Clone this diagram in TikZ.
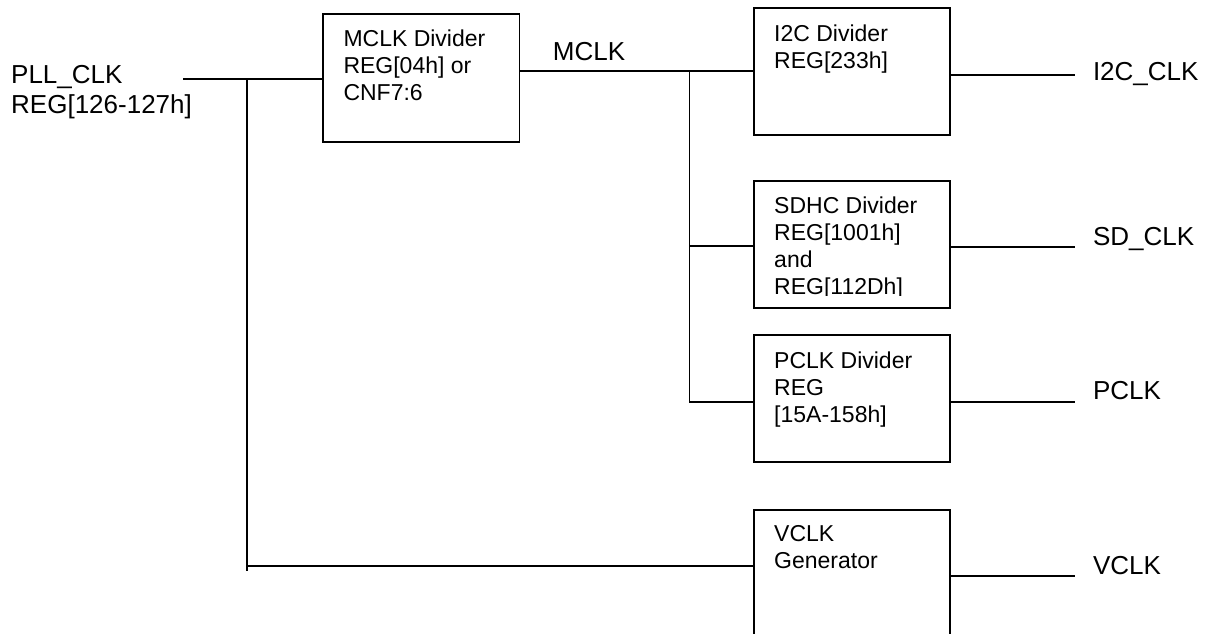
\documentclass[tikz,border=0pt]{standalone}
\usepackage{fontspec}
\setmainfont{Liberation Sans}
\begin{document}
\begin{tikzpicture}[x=1pt,y=-1pt,
  box/.style={draw, line width=1.8pt, minimum width=196.6pt, inner sep=0pt, anchor=north west},
  wire/.style={line width=1.8pt},
  boxtext/.style={font=\fontsize{23}{27}\selectfont, inner sep=0pt, anchor=base west},
  lbl/.style={font=\fontsize{26}{30}\selectfont, inner sep=0pt, anchor=base west}]
\useasboundingbox (0,0) rectangle (1206,633);
\clip (0,0) rectangle (1206,633);
% boxes
\node[box, minimum height=127.4pt] (mclk) at (322,13.3) {};
\node[box, minimum height=127pt] (i2c) at (752.7,7.3) {};
\node[box, minimum height=126.7pt] (sdhc) at (752.7,180) {};
\node[box, minimum height=126.7pt] (pclk) at (752.7,334) {};
\node[box, minimum height=150pt] (vclk) at (752.7,508.7) {};
% box texts
\node[boxtext] (mclkt) at (343.3,46.7) {\vtop{\hbox{MCLK Divider}\hbox{REG[04h] or}\hbox{CNF7:6}}};
\node[boxtext] (i2ct) at (774,41.7) {\vtop{\hbox{I2C Divider}\hbox{REG[233h]}}};
\begin{scope}
\clip (752.7,180) rectangle (949.3,295.6);
\node[boxtext] (sdhct) at (774,213.3) {\vtop{\hbox{SDHC Divider}\hbox{REG[1001h]}\hbox{and}\hbox{REG[112Dh]}}};
\end{scope}
\node[boxtext] (pclkt) at (774,368.3) {\vtop{\hbox{PCLK Divider}\hbox{REG}\hbox{[15A-158h]}}};
\node[boxtext] (vclkt) at (774,541.7) {\vtop{\hbox{VCLK}\hbox{Generator}}};
% labels
\node[lbl] (pll) at (11,83.3) {\vtop{\hbox{PLL\_CLK}\hbox{REG[126-127h]}}};
\node[lbl] (mclkl) at (552.7,60.7) {MCLK};
\node[lbl] (i2cl) at (1092.8,80) {I2C\_CLK};
\node[lbl] (sdl) at (1092.8,245) {SD\_CLK};
\node[lbl] (pclkl) at (1092.8,399.3) {PCLK};
\node[lbl] (vclkl) at (1092.8,574) {VCLK};
% coordinates
\coordinate (pllstart) at (183.3,79);
\coordinate (j1) at (247,79);
\coordinate (j1end) at (247,571);
\coordinate (j1v) at (247,566);
\coordinate (mout) at (519,70.7);
\coordinate (j2) at (689.5,70.7);
\coordinate (j2end) at (689.5,403.3);
\coordinate (j2s) at (689.5,245.7);
\coordinate (j2p) at (689.5,401.7);
\coordinate (o1) at (1075,74.7);
\coordinate (o2) at (1075,247.3);
\coordinate (o3) at (1075,401.7);
\coordinate (o4) at (1075,576);
% wires
\draw[wire] (pllstart) -- (pllstart -| mclk.west);
\draw[wire] (j1) -- (j1end);
\draw[wire] (j1v) -- (j1v -| vclk.west);
\draw[wire] (mout -| mclk.east) -- (mout -| i2c.west);
\draw[wire] (j2) -- (j2end);
\draw[wire] (j2s) -- (j2s -| sdhc.west);
\draw[wire] (j2p) -- (j2p -| pclk.west);
\draw[wire] (o1 -| i2c.east) -- (o1);
\draw[wire] (o2 -| sdhc.east) -- (o2);
\draw[wire] (o3 -| pclk.east) -- (o3);
\draw[wire] (o4 -| vclk.east) -- (o4);
\end{tikzpicture}
\end{document}
